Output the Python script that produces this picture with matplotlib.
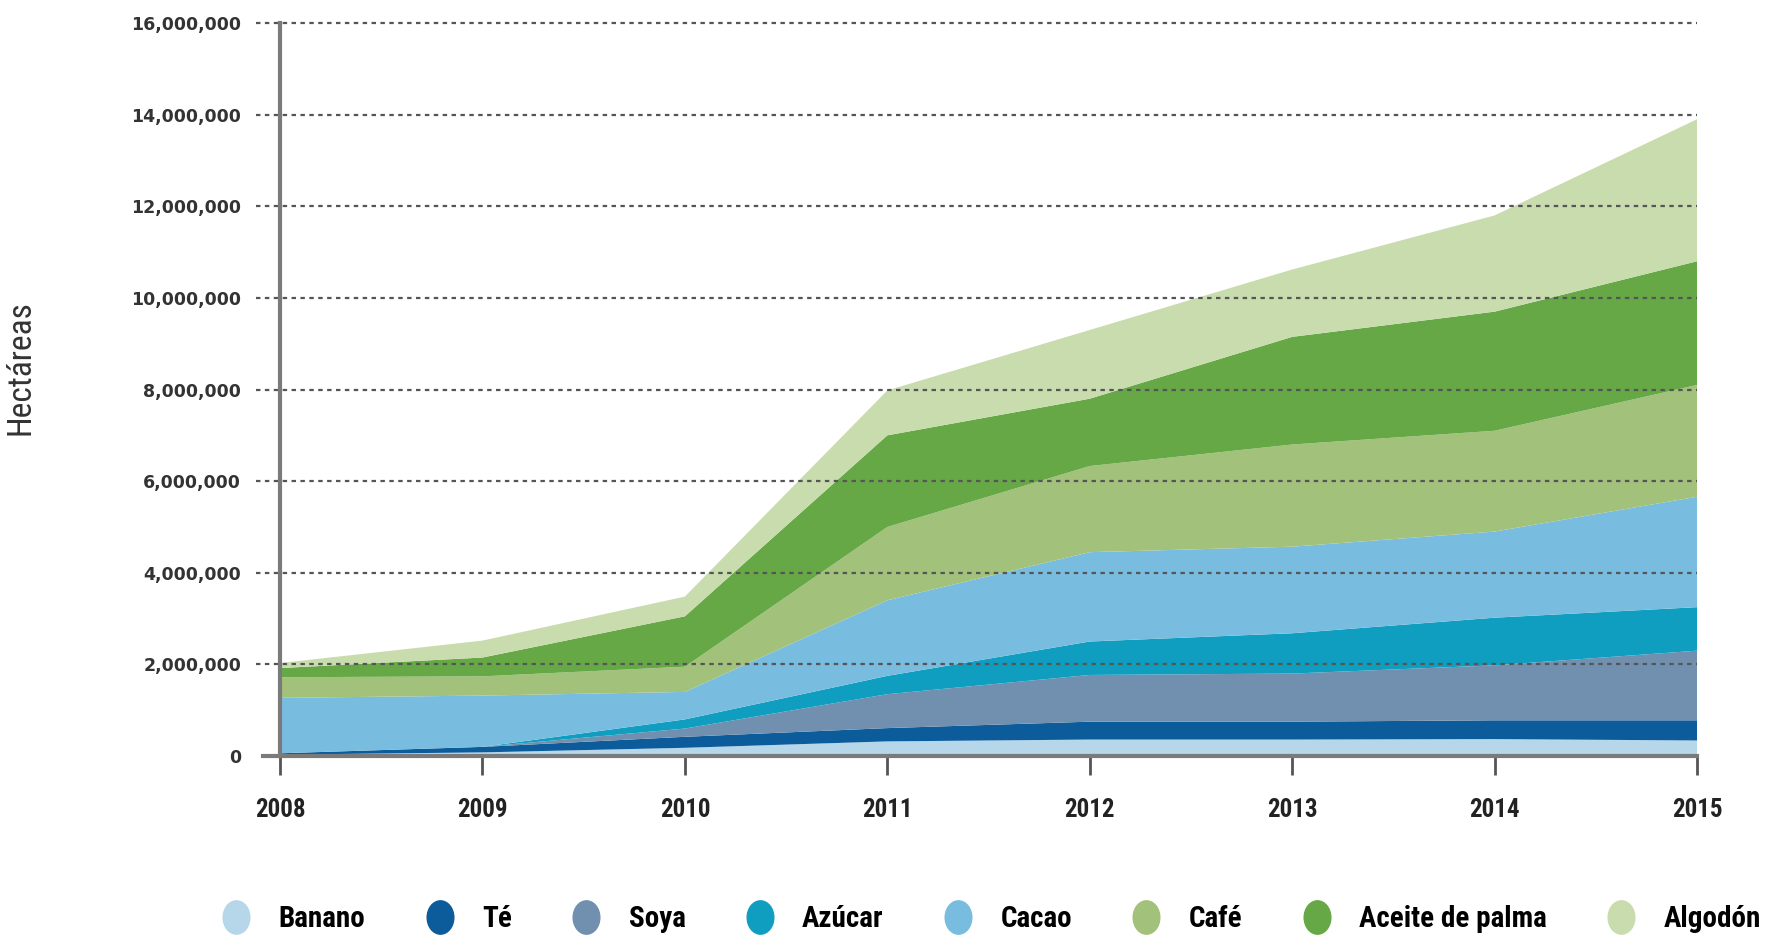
import numpy as np
import matplotlib
matplotlib.use('Agg')
import matplotlib.pyplot as plt
from matplotlib.lines import Line2D
from matplotlib.path import Path
from matplotlib.transforms import Affine2D
from matplotlib.ticker import FuncFormatter

# hectareas por cultivo y año
years = [2008, 2009, 2010, 2011, 2012, 2013, 2014, 2015]
cultivos = ['Banano', 'Té', 'Soya', 'Azúcar', 'Cacao', 'Café', 'Aceite de palma', 'Algodón']

banano = [30000, 80000, 180000, 320000, 360000, 360000, 370000, 340000]
te = [30000, 120000, 240000, 290000, 390000, 390000, 410000, 440000]
soya = [0, 0, 180000, 740000, 1020000, 1050000, 1200000, 1520000]
azucar = [0, 0, 200000, 400000, 730000, 880000, 1040000, 950000]
cacao = [1210000, 1120000, 600000, 1650000, 1950000, 1890000, 1880000, 2410000]
cafe = [450000, 420000, 550000, 1600000, 1880000, 2230000, 2200000, 2440000]
palma = [200000, 410000, 1100000, 2000000, 1470000, 2350000, 2600000, 2700000]
algodon = [110000, 370000, 430000, 980000, 1500000, 1470000, 2100000, 3100000]

yticks = np.arange(0, 16000001, 2000000)

colores = ['#b6d6ea', '#0c5b9a', '#7190b0', '#109ec0', '#78bde0', '#a2c17b', '#66a845', '#c8dcae']
narrow = ['Roboto Condensed', 'Roboto', 'DejaVu Sans']

fig = plt.figure(figsize=(17.77, 9.40), dpi=100)
ax = fig.add_axes([0.1576, 0.1957, 0.955 - 0.1576, 0.9755 - 0.1957])

series = [banano, te, soya, azucar, cacao, cafe, palma, algodon]
ax.stackplot(years, *series, colors=colores, labels=cultivos, lw=0)

ax.set_xlim(2008, 2015)
ax.set_ylim(0, 16000000)

# lineas de rejilla punteadas que salen un poco a la izquierda del eje
for v in yticks[1:]:
    ax.axhline(v, xmin=-0.017, xmax=1, color='#555555', lw=1.6,
               ls=(0, (2, 2)), clip_on=False, zorder=5)
ax.axhline(0, xmin=-0.012, xmax=1, color='#7a7a7a', lw=3, clip_on=False, zorder=6)

for s in ['top', 'right', 'bottom']:
    ax.spines[s].set_visible(False)
ax.spines['left'].set_color('#7a7a7a')
ax.spines['left'].set_linewidth(3)
ax.spines['left'].set_zorder(6)

ax.set_yticks(yticks)
ax.yaxis.set_major_formatter(FuncFormatter(lambda v, p: '{:,.0f}'.format(v)))
ax.tick_params(axis='y', length=0, pad=28, labelsize=12.5, labelcolor='#333333')
for lbl in ax.get_yticklabels():
    lbl.set_fontweight('bold')

ax.set_xticks(years)
ax.tick_params(axis='x', length=14, width=2, color='#555555', pad=16,
               labelsize=18, labelcolor='#222222')
for lbl in ax.get_xticklabels():
    lbl.set_family(narrow)
    lbl.set_fontweight('bold')

ax.set_ylabel('Hectáreas', fontsize=24, family=narrow, color='#333333')
ax.yaxis.set_label_coords(-0.172, 0.53)

# leyenda con marcadores ovalados
oval = Path.unit_circle().transformed(Affine2D().scale(0.8, 1.0))
handles = [Line2D([], [], ls='none', marker=oval, markersize=24,
                  markerfacecolor=c, markeredgecolor=c) for c in colores]
fig.legend(handles, cultivos, loc='center', bbox_to_anchor=(0.557, 0.022),
           ncol=8, frameon=False, handlelength=1.2, handletextpad=0.85,
           columnspacing=1.95, prop={'family': narrow, 'weight': 'bold', 'size': 21})

fig.savefig('out.png', dpi=100)
